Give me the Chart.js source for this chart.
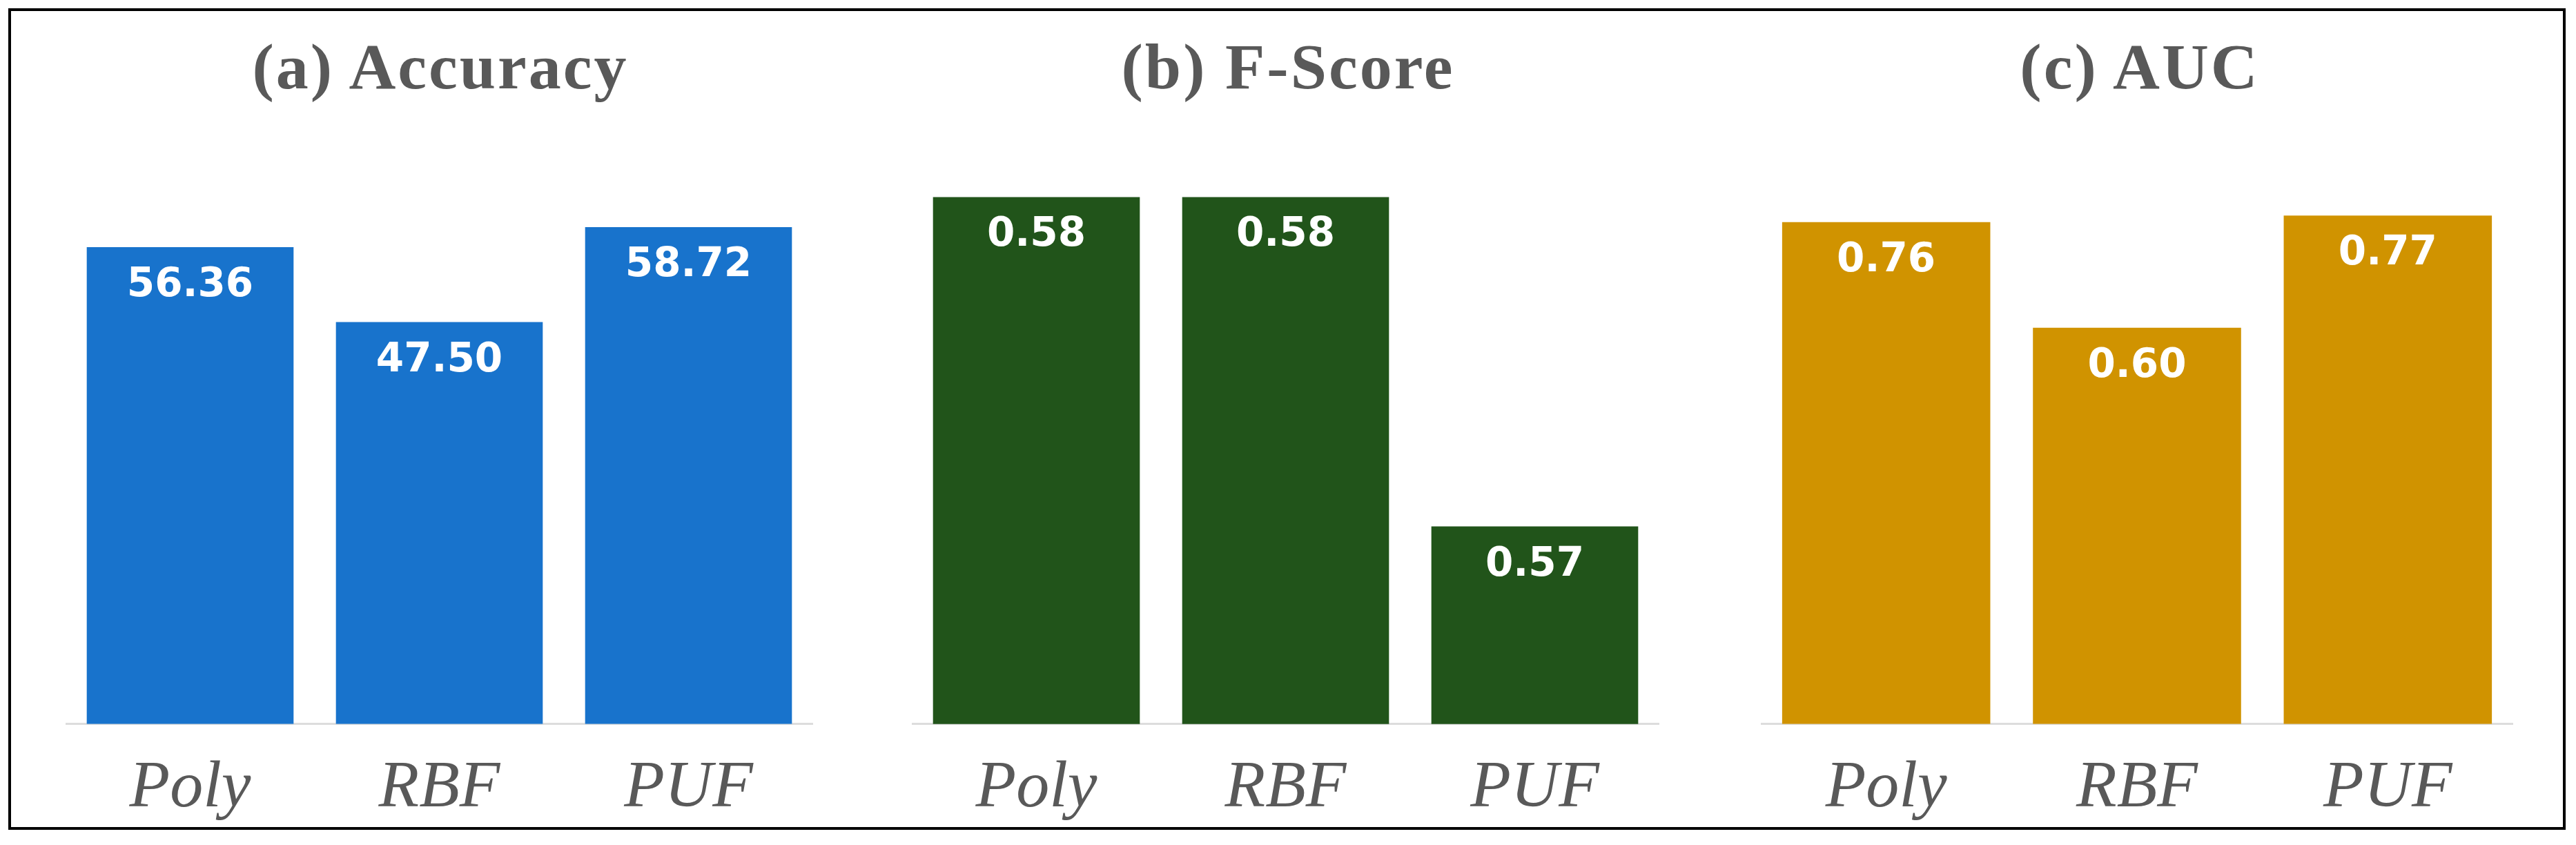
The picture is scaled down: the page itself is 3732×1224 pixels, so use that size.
<!DOCTYPE html>
<html>
<head>
<meta charset="utf-8">
<script src="https://cdn.jsdelivr.net/npm/chart.js@4"></script>
<style>
  body { margin: 0; background: #fff; width: 3732px; height: 1224px; position: relative; overflow: hidden; }
  .frame { position: absolute; left: 12px; top: 12px; width: 3697px; height: 1182px; border: 4px solid #000; }
  .title { position: absolute; top: 42px; font: bold 94px "Liberation Serif", serif; color: #595959; transform: translateX(-50%); white-space: nowrap; letter-spacing: 3px; }
  .panel { position: absolute; top: 252px; height: 984px; }
</style>
</head>
<body>
<div class="frame"></div>
<div class="title" style="left:638px">(a) Accuracy</div>
<div class="title" style="left:1866px">(b) F-Score</div>
<div class="title" style="left:3100px">(c) AUC</div>
<div class="panel" style="left:95px;width:1083px"><canvas id="accChart"></canvas></div>
<div class="panel" style="left:1321px;width:1083px"><canvas id="fChart"></canvas></div>
<div class="panel" style="left:2551px;width:1090px"><canvas id="aucChart"></canvas></div>
<script>
const kernels = ['Poly', 'RBF', 'PUF'];
const accuracy = [56.36, 47.50, 58.72];
const fScore = [0.58, 0.58, 0.57];
const auc = [0.76, 0.60, 0.77];

// white value label drawn just inside the top of each bar
const insideLabels = {
    id: 'insideLabels',
    afterDatasetsDraw(chart) {
        const ctx = chart.ctx;
        const meta = chart.getDatasetMeta(0);
        ctx.save();
        ctx.fillStyle = '#fff';
        ctx.font = 'bold 58px "DejaVu Sans", sans-serif';
        ctx.textAlign = 'center';
        ctx.textBaseline = 'middle';
        meta.data.forEach((bar, i) => {
            const v = chart.data.datasets[0].data[i];
            ctx.fillText(v.toFixed(2), bar.x, bar.y + 56);
        });
        ctx.restore();
    }
};

function makeChart(id, values, color, yMin, yMax) {
    new Chart(document.getElementById(id), {
        type: 'bar',
        data: {
            labels: kernels,
            datasets: [{ data: values, backgroundColor: color, barPercentage: 0.83, categoryPercentage: 1 }]
        },
        options: {
            responsive: true,
            maintainAspectRatio: false,
            animation: false,
            layout: { padding: 0 },
            plugins: { legend: { display: false }, tooltip: { enabled: false } },
            scales: {
                y: { display: false, min: yMin, max: yMax },
                x: {
                    grid: { display: false, drawTicks: false },
                    border: { display: true, color: '#dddddd', width: 3 },
                    ticks: { color: '#595959', padding: 36, font: { family: '"Liberation Serif", serif', style: 'italic', size: 96 } }
                }
            }
        },
        plugins: [insideLabels]
    });
}

makeChart('accChart', accuracy, '#1873CC', 0, 65);
makeChart('fChart', fScore, '#21541A', 0.564, 0.5807);
makeChart('aucChart', auc, '#D09300', 0, 0.833);
</script>
</body>
</html>
